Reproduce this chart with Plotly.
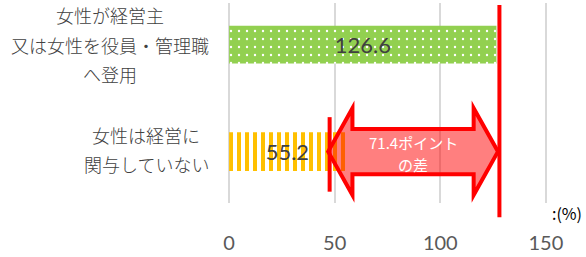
import plotly.graph_objects as go

# ---- data ----
categories = ["女性が経営主<br>又は女性を役員・管理職<br>へ登用", "女性は経営に<br>関与していない"]
values = [126.6, 55.2]
x_tick_vals = [0, 50, 100, 150]
x_tick_text = ["0", "50", "100", "150"]
unit_text = ":(%)"
diff_value = round(values[0] - values[1], 1)
diff_lines = [f"{diff_value}ポイント", "の差"]

# ---- layout constants ----
W, H = 586, 257
ML, MR, MT, MB = 227, 19, 3, 42
X_RANGE = [-1, 160]
Y_RANGE = [-0.480, 1.388]
PLOT_W = W - ML - MR
PLOT_H = H - MT - MB
PX_PER_Y = PLOT_H / (Y_RANGE[1] - Y_RANGE[0])
y_pos = [1, 0]

def py_to_y(py):
    return Y_RANGE[1] - (py - MT) / PX_PER_Y

def px_to_paper(px):
    return (px - ML) / PLOT_W

def py_to_paper(py):
    return 1 - (py - MT) / PLOT_H

fig = go.Figure()

# green dotted bar
fig.add_trace(go.Bar(
    x=[values[0]], y=[y_pos[0]], orientation="h", width=0.352,
    marker=dict(color="#92D050", line=dict(width=0),
                pattern=dict(shape=".", fgcolor="#FFFFFF", bgcolor="#92D050",
                             size=8, solidity=0.07, fillmode="replace")),
    text=[f"{values[0]}"], textposition="inside", insidetextanchor="middle",
    textangle=0, constraintext="none",
    textfont=dict(family="Lato, Liberation Sans, sans-serif", size=22, color="#404040"),
    hoverinfo="skip", showlegend=False,
))
# orange striped bar
fig.add_trace(go.Bar(
    x=[values[1]], y=[y_pos[1]], orientation="h", width=0.36,
    marker=dict(color="#FFC000", line=dict(width=0),
                pattern=dict(shape="|", fgcolor="#FFC000", bgcolor="#FFFFFF",
                             size=8, solidity=0.5, fillmode="replace")),
    text=[f"{values[1]}"], textposition="inside", insidetextanchor="middle",
    textangle=0, constraintext="none",
    textfont=dict(family="Lato, Liberation Sans, sans-serif", size=22, color="#404040"),
    hoverinfo="skip", showlegend=False,
))

# ---- decoration: double arrow showing the gap ----
a_left = 46.9
a_right = values[0] + 0.7
head_len = 11.5
yc = y_pos[1]
head_h = 46 / PX_PER_Y
shaft_h = 24 / PX_PER_Y
pts = [
    (a_left, yc),
    (a_left + head_len, yc + head_h),
    (a_left + head_len, yc + shaft_h),
    (a_right - head_len, yc + shaft_h),
    (a_right - head_len, yc + head_h),
    (a_right, yc),
    (a_right - head_len, yc - head_h),
    (a_right - head_len, yc - shaft_h),
    (a_left + head_len, yc - shaft_h),
    (a_left + head_len, yc - head_h),
]
path = "M " + " L ".join(f"{x},{y}" for x, y in pts) + " Z"
fig.add_shape(type="path", path=path, xref="x", yref="y",
              fillcolor="rgba(255,0,0,0.5)", line=dict(color="#FF0000", width=4),
              layer="above")

# red vertical lines
fig.add_shape(type="line", xref="x", yref="paper",
              x0=values[0] + 1.4, x1=values[0] + 1.4,
              y0=py_to_paper(5), y1=py_to_paper(230),
              line=dict(color="#FF0000", width=4))
fig.add_shape(type="line", xref="x", yref="y",
              x0=47.6, x1=47.6, y0=py_to_y(124), y1=py_to_y(203),
              line=dict(color="#FF0000", width=4))

annotations = []
# arrow text
a_mid = (a_left + a_right) / 2
for i, line in enumerate(diff_lines):
    annotations.append(dict(
        x=a_mid, y=py_to_y(151 + 23 * i), xref="x", yref="y",
        text=line, showarrow=False, xanchor="center", yanchor="middle",
        font=dict(family="Noto Sans CJK JP, sans-serif", size=15, color="#FFFFFF")))

# category labels (centered lines)
label_center_px = [109.5, 146]
label_center_py = [47, 158.5]
line_gap = 31
for cat, cx, cy in zip(categories, label_center_px, label_center_py):
    lines = cat.split("<br>")
    n = len(lines)
    for i, line in enumerate(lines):
        py = cy + (i - (n - 1) / 2) * line_gap
        annotations.append(dict(
            x=px_to_paper(cx), y=py_to_paper(py), xref="paper", yref="paper",
            text=line, showarrow=False, xanchor="center", yanchor="middle",
            font=dict(family="Noto Sans CJK JP, sans-serif", size=18, color="#404040",
                      weight=300)))

# unit label
annotations.append(dict(
    x=px_to_paper(584), y=py_to_paper(226), xref="paper", yref="paper",
    text=unit_text, showarrow=False, xanchor="right", yanchor="middle",
    font=dict(family="Noto Sans CJK JP, sans-serif", size=16, color="#000000")))

fig.update_layout(
    width=W, height=H,
    margin=dict(l=ML, r=MR, t=MT, b=MB, pad=0),
    paper_bgcolor="#FFFFFF", plot_bgcolor="#FFFFFF",
    barmode="overlay",
    annotations=annotations,
    xaxis=dict(range=X_RANGE, tickvals=x_tick_vals, ticktext=x_tick_text,
               showgrid=True, gridcolor="#D9D9D9", gridwidth=2,
               zeroline=False, showline=False,
               ticks="outside", ticklen=22, tickcolor="rgba(0,0,0,0)",
               tickfont=dict(family="Lato, Liberation Sans, sans-serif", size=20, color="#595959"),
               fixedrange=True),
    yaxis=dict(range=Y_RANGE, showgrid=False, zeroline=False, showline=False,
               showticklabels=False, ticks="", fixedrange=True),
)

fig.write_html("out.html", config={"displayModeBar": False},
               post_script="document.body.style.margin='0px';document.body.style.overflow='hidden';")
